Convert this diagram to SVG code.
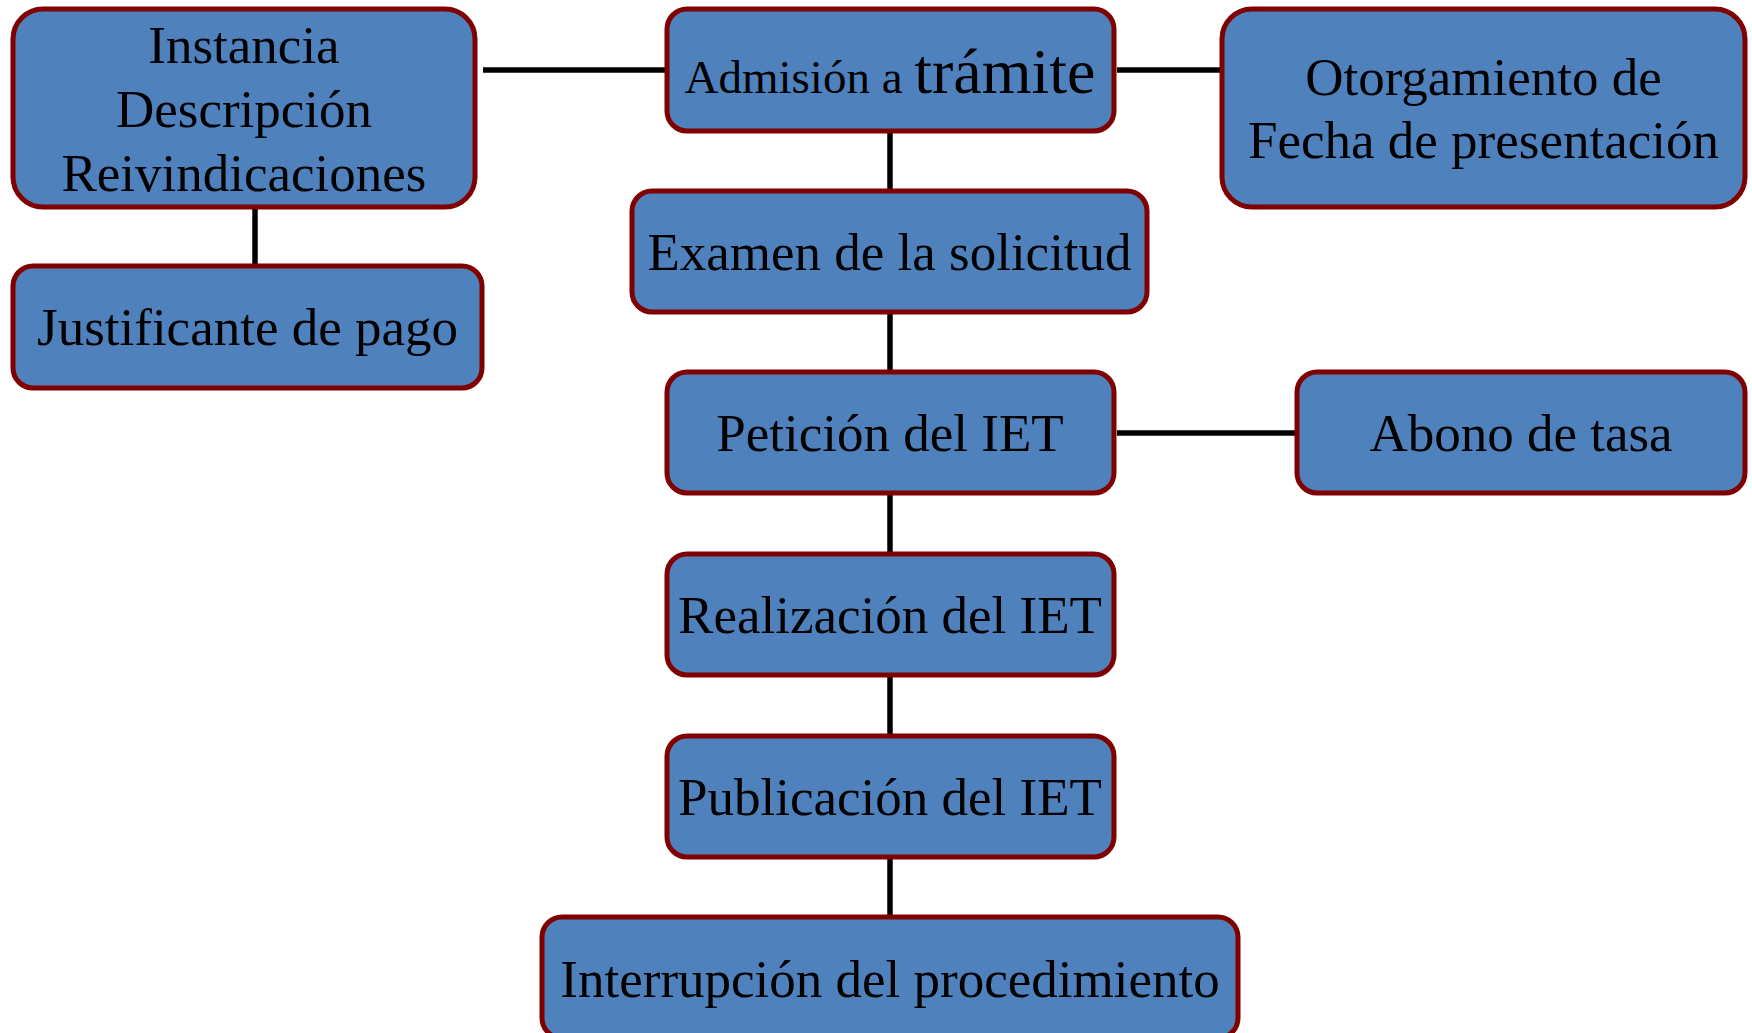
<svg xmlns="http://www.w3.org/2000/svg" width="1752" height="1033" viewBox="0 0 1752 1033">
<style>
.box{fill:#4F81BD;stroke:#800000;stroke-width:5}
.t{font-family:"Liberation Serif","Times New Roman",serif;font-size:53px;fill:#000;text-anchor:middle}
.c{stroke:#000;stroke-width:5.5;fill:none}
</style>
<rect width="1752" height="1033" fill="#fff"/>
<g id="connectors">
<line class="c" x1="483" y1="70" x2="667" y2="70"/>
<line class="c" x1="1117" y1="70" x2="1222" y2="70"/>
<line class="c" x1="255" y1="207" x2="255" y2="266"/>
<line class="c" x1="890" y1="131" x2="890" y2="191"/>
<line class="c" x1="890" y1="312" x2="890" y2="372"/>
<line class="c" x1="1117" y1="433" x2="1297" y2="433"/>
<line class="c" x1="890" y1="493" x2="890" y2="554"/>
<line class="c" x1="890" y1="675" x2="890" y2="736"/>
<line class="c" x1="890" y1="857" x2="890" y2="917"/>
</g>
<g id="n-instancia">
<rect class="box" x="13" y="9" width="462" height="198" rx="30"/>
<text class="t" x="244" y="63">Instancia</text>
<text class="t" x="244" y="127">Descripción</text>
<text class="t" x="244" y="191">Reivindicaciones</text>
</g>
<g id="n-justificante">
<rect class="box" x="13" y="266" width="469" height="122" rx="20"/>
<text class="t" x="247.5" y="345">Justificante de pago</text>
</g>
<g id="n-admision">
<rect class="box" x="667" y="9" width="447" height="122" rx="20"/>
<text class="t" x="890" y="93"><tspan font-size="47">Admisión a </tspan><tspan font-size="64">trámite</tspan></text>
</g>
<g id="n-otorgamiento">
<rect class="box" x="1222" y="9" width="523" height="198" rx="30"/>
<text class="t" x="1483.5" y="95">Otorgamiento de</text>
<text class="t" x="1483.5" y="158">Fecha de presentación</text>
</g>
<g id="n-examen">
<rect class="box" x="632" y="191" width="515" height="121" rx="20"/>
<text class="t" x="889.5" y="270">Examen de la solicitud</text>
</g>
<g id="n-peticion">
<rect class="box" x="667" y="372" width="447" height="121" rx="20"/>
<text class="t" x="890" y="451">Petición del IET</text>
</g>
<g id="n-abono">
<rect class="box" x="1297" y="372" width="448" height="121" rx="20"/>
<text class="t" x="1521" y="451">Abono de tasa</text>
</g>
<g id="n-realizacion">
<rect class="box" x="667" y="554" width="447" height="121" rx="20"/>
<text class="t" x="890" y="633">Realización del IET</text>
</g>
<g id="n-publicacion">
<rect class="box" x="667" y="736" width="447" height="121" rx="20"/>
<text class="t" x="890" y="815">Publicación del IET</text>
</g>
<g id="n-interrupcion">
<rect class="box" x="542" y="917" width="696" height="121" rx="20"/>
<text class="t" x="890" y="997">Interrupción del procedimiento</text>
</g>
</svg>
